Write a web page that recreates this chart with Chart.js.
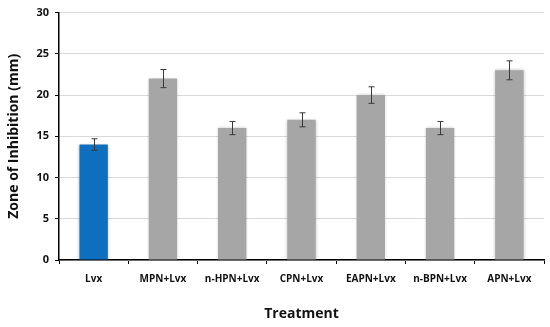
<!DOCTYPE html>
<html>
<head>
<meta charset="utf-8">
<script src="https://cdn.jsdelivr.net/npm/chart.js@4"></script>
<style>
  html, body { margin: 0; padding: 0; background: #fff; }
  #wrap { width: 550px; height: 327px; }
</style>
</head>
<body>
<div id="wrap"><canvas id="grafico"></canvas></div>
<script>
// datos del gráfico
const tratamientos = ['Lvx', 'MPN+Lvx', 'n-HPN+Lvx', 'CPN+Lvx', 'EAPN+Lvx', 'n-BPN+Lvx', 'APN+Lvx'];
const zonaInhibicion = [14, 22, 16, 17, 20, 16, 23];
const errores = [0.7, 1.1, 0.8, 0.85, 1.0, 0.8, 1.15];
const coloresBarras = ['#0F6FBF', '#A6A6A6', '#A6A6A6', '#A6A6A6', '#A6A6A6', '#A6A6A6', '#A6A6A6'];
const ticksY = [0, 5, 10, 15, 20, 25, 30];

// sombra suave en las barras
const sombraBarras = {
    id: 'sombraBarras',
    beforeDatasetsDraw(chart) {
        const ctx = chart.ctx;
        ctx.save();
        ctx.shadowColor = 'rgba(0,0,0,0.25)';
        ctx.shadowBlur = 3;
    },
    afterDatasetsDraw(chart) {
        chart.ctx.restore();
    }
};

// barras de error dibujadas con la escala y
const barrasError = {
    id: 'barrasError',
    afterDatasetsDraw(chart) {
        const ctx = chart.ctx;
        const y = chart.scales.y;
        const meta = chart.getDatasetMeta(0);
        ctx.save();
        ctx.strokeStyle = '#3a3a3a';
        ctx.lineWidth = 1;
        meta.data.forEach((bar, i) => {
            const v = zonaInhibicion[i];
            const e = errores[i];
            const yTop = y.getPixelForValue(v + e);
            const yBot = y.getPixelForValue(v - e);
            const x = Math.round(bar.x) + 0.5;
            ctx.beginPath();
            ctx.moveTo(x, yTop);
            ctx.lineTo(x, yBot);
            ctx.moveTo(x - 3, yTop);
            ctx.lineTo(x + 3, yTop);
            ctx.moveTo(x - 3, yBot);
            ctx.lineTo(x + 3, yBot);
            ctx.stroke();
        });
        ctx.restore();
    }
};

new Chart(document.getElementById('grafico'), {
    type: 'bar',
    data: {
        labels: tratamientos,
        datasets: [{
            data: zonaInhibicion,
            backgroundColor: coloresBarras,
            borderWidth: 0,
            categoryPercentage: 1,
            barPercentage: 0.41
        }]
    },
    options: {
        responsive: true,
        maintainAspectRatio: false,
        animation: false,
        layout: { padding: { top: 11, right: 6, left: 0, bottom: 0 } },
        plugins: {
            legend: { display: false },
            tooltip: { enabled: false }
        },
        scales: {
            x: {
                grid: {
                    drawOnChartArea: false,
                    drawTicks: true,
                    tickLength: 4,
                    tickColor: '#000'
                },
                border: { color: '#000', width: 1.5 },
                ticks: {
                    color: '#111',
                    padding: 9,
                    maxRotation: 0,
                    font: { family: 'Open Sans', size: 10, weight: 'bold' }
                },
                title: {
                    display: true,
                    text: 'Treatment',
                    color: '#111',
                    padding: { top: 10, bottom: 5 },
                    font: { family: 'Open Sans', size: 14, weight: 'bold' }
                },
                afterFit(scale) { scale.height = 67; }
            },
            y: {
                min: 0,
                max: 30,
                afterBuildTicks(scale) {
                    scale.ticks = ticksY.map(v => ({ value: v }));
                },
                grid: {
                    color: '#d9d9d9',
                    lineWidth: 1,
                    tickLength: 4,
                    tickColor: '#000'
                },
                border: { color: '#000', width: 1.5 },
                ticks: {
                    color: '#111',
                    padding: 6,
                    font: { family: 'Open Sans', size: 11, weight: 'bold' }
                },
                title: {
                    display: true,
                    text: 'Zone of Inhibition (mm)',
                    color: '#111',
                    padding: { top: 6, bottom: 4 },
                    font: { family: 'Open Sans', size: 14, weight: 'bold' }
                },
                afterFit(scale) { scale.width = 59; }
            }
        }
    },
    plugins: [sombraBarras, barrasError]
});
</script>
</body>
</html>
